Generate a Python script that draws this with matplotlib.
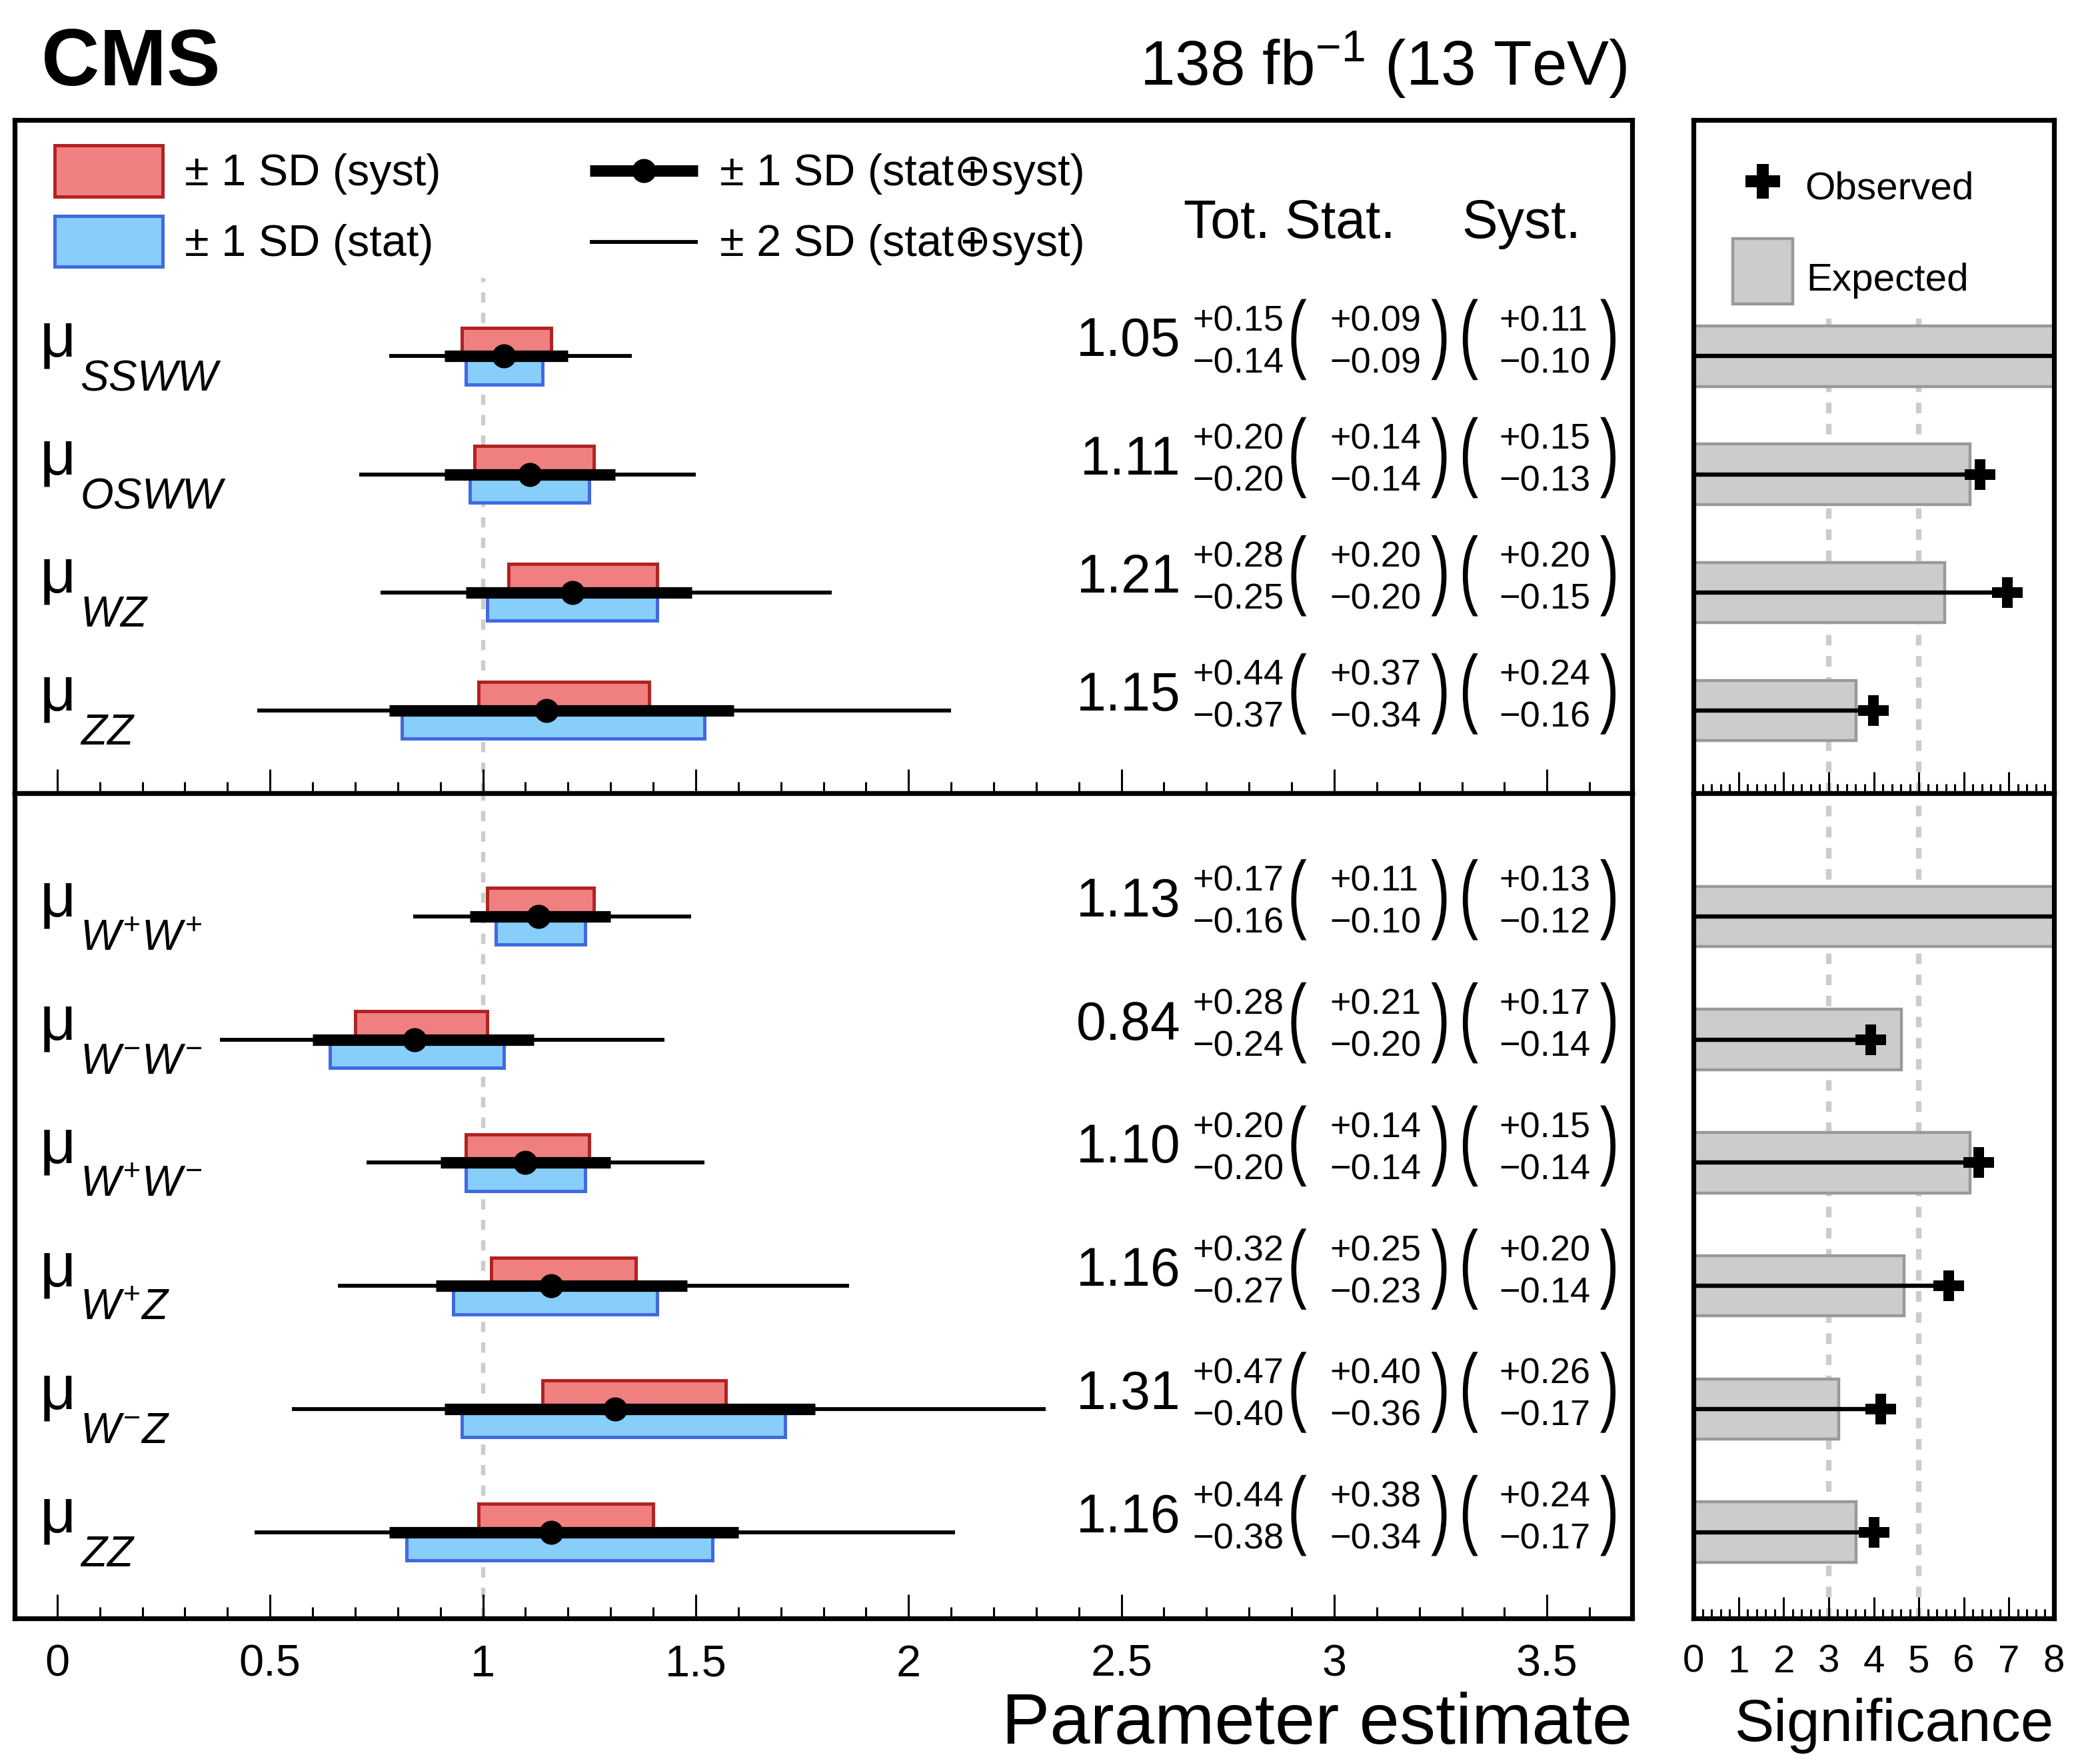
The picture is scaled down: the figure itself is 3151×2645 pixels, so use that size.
import matplotlib
matplotlib.use('Agg')
import matplotlib.pyplot as plt
from matplotlib.patches import Rectangle, PathPatch
from matplotlib.ticker import MultipleLocator
from matplotlib.textpath import TextPath
from matplotlib.font_manager import FontProperties
from matplotlib.transforms import Affine2D, ScaledTranslation
import numpy as np

plt.rcParams['font.family'] = ['Liberation Sans', 'DejaVu Sans']
plt.rcParams['mathtext.fontset'] = 'custom'
plt.rcParams['mathtext.rm'] = 'Liberation Sans'
plt.rcParams['mathtext.it'] = 'Liberation Sans:italic'
plt.rcParams['mathtext.bf'] = 'Liberation Sans:bold'

# ---------------- data ----------------
top_labels = ['SSWW', 'OSWW', 'WZ', 'ZZ']
top_mu = [1.05, 1.11, 1.21, 1.15]
top_tot_up = [0.15, 0.20, 0.28, 0.44]
top_tot_dn = [0.14, 0.20, 0.25, 0.37]
top_stat_up = [0.09, 0.14, 0.20, 0.37]
top_stat_dn = [0.09, 0.14, 0.20, 0.34]
top_syst_up = [0.11, 0.15, 0.20, 0.24]
top_syst_dn = [0.10, 0.13, 0.15, 0.16]
top_2sd_lo = [0.78, 0.71, 0.76, 0.47]
top_2sd_hi = [1.35, 1.50, 1.82, 2.10]
top_sig_exp = [10.0, 6.14, 5.58, 3.61]
top_sig_obs = [10.0, 6.36, 6.97, 3.99]

bot_labels = [r'W^{+}W^{+}', r'W^{-}W^{-}', r'W^{+}W^{-}', r'W^{+}Z', r'W^{-}Z', r'ZZ']
bot_mu = [1.13, 0.84, 1.10, 1.16, 1.31, 1.16]
bot_tot_up = [0.17, 0.28, 0.20, 0.32, 0.47, 0.44]
bot_tot_dn = [0.16, 0.24, 0.20, 0.27, 0.40, 0.38]
bot_stat_up = [0.11, 0.21, 0.14, 0.25, 0.40, 0.38]
bot_stat_dn = [0.10, 0.20, 0.14, 0.23, 0.36, 0.34]
bot_syst_up = [0.13, 0.17, 0.15, 0.20, 0.26, 0.24]
bot_syst_dn = [0.12, 0.14, 0.14, 0.14, 0.17, 0.17]
bot_2sd_lo = [0.836, 0.382, 0.726, 0.659, 0.552, 0.464]
bot_2sd_hi = [1.489, 1.426, 1.521, 1.861, 2.322, 2.110]
bot_sig_exp = [10.0, 4.61, 6.14, 4.68, 3.23, 3.61]
bot_sig_obs = [10.0, 3.94, 6.33, 5.66, 4.16, 4.01]

x_ticks_main = [0, 0.5, 1, 1.5, 2, 2.5, 3, 3.5]
x_ticklabels_main = ['0', '0.5', '1', '1.5', '2', '2.5', '3', '3.5']
x_ticks_sig = [0, 1, 2, 3, 4, 5, 6, 7, 8]

# ---------------- style ----------------
RED_FILL, RED_EDGE = '#F08080', '#B22222'
BLUE_FILL, BLUE_EDGE = '#87CEFA', '#4169E1'
GRAY_FILL, GRAY_EDGE = '#CCCCCC', '#999999'
DASH_COL = '#CCCCCC'

W, H = 3151, 2645
DPI = 200
fig = plt.figure(figsize=(W / DPI, H / DPI), dpi=DPI)


def fx(px):
    return px / W


def fy(py):
    return 1 - py / H


mainL, mainR = 22, 2449
sigL, sigR = 2541, 3082
topT, midY, botB = 180, 1190, 2428

ax_top = fig.add_axes([fx(mainL), fy(midY), fx(mainR) - fx(mainL), fy(topT) - fy(midY)])
ax_bot = fig.add_axes([fx(mainL), fy(botB), fx(mainR) - fx(mainL), fy(midY) - fy(botB)])
sx_top = fig.add_axes([fx(sigL), fy(midY), fx(sigR) - fx(sigL), fy(topT) - fy(midY)])
sx_bot = fig.add_axes([fx(sigL), fy(botB), fx(sigR) - fx(sigL), fy(midY) - fy(botB)])

XLIM = (-0.1, 3.7)
TOP_YLIM = (-0.7, 5.0)
BOT_YLIM = (-0.7, 6.0)

PAREN_PROP = FontProperties(family='Liberation Sans')


def paren(ax, ch, x, y, dy_pt=9.0, size=47.0, sx=0.66):
    """Draw a tall, thin parenthesis centred at data (x, y) shifted by dy_pt points."""
    tp = TextPath((0, 0), ch, size=size, prop=PAREN_PROP)
    ext = tp.get_extents()
    cx, cy = (ext.x0 + ext.x1) / 2, (ext.y0 + ext.y1) / 2
    tr = (Affine2D().translate(-cx, -cy).scale(sx / 72.0, 1 / 72.0).translate(0, dy_pt / 72.0)
          + fig.dpi_scale_trans + ScaledTranslation(x, y, ax.transData)
          - ScaledTranslation(0, 0, fig.dpi_scale_trans))
    ax.add_artist(PathPatch(tp, transform=tr, facecolor='black', edgecolor='none',
                            clip_on=False, zorder=5))


def style_axes(ax, xlim, ylim, main=True, labels=True):
    ax.set_xlim(*xlim)
    ax.set_ylim(*ylim)
    ax.set_yticks([])
    for s in ax.spines.values():
        s.set_linewidth(2.6)
    if main:
        ax.set_xticks(x_ticks_main)
        ax.set_xticklabels(x_ticklabels_main)
        ax.xaxis.set_minor_locator(MultipleLocator(0.1))
        ax.tick_params(axis='x', which='major', direction='in', length=13, width=1.1,
                       labelsize=24, pad=14, labelbottom=labels)
        ax.tick_params(axis='x', which='minor', direction='in', length=6, width=1.1)
    else:
        ax.set_xticks(x_ticks_sig)
        ax.xaxis.set_minor_locator(MultipleLocator(0.2))
        ax.tick_params(axis='x', which='major', direction='in', length=11.5, width=1.1,
                       labelsize=21, pad=14, labelbottom=labels)
        ax.tick_params(axis='x', which='minor', direction='in', length=5, width=1.1)


def draw_main(ax, labels, mu, tu, td, stu, std, syu, syd, lo2, hi2, box_h, dash_top):
    n = len(mu)
    y = np.arange(n)[::-1].astype(float)
    mu = np.array(mu); tu = np.array(tu); td = np.array(td)
    stu = np.array(stu); std = np.array(std); syu = np.array(syu); syd = np.array(syd)
    ax.vlines(1.0, ax.get_ylim()[0], dash_top, colors=DASH_COL, lw=2.3,
              linestyles=(0, (2.4, 2.4)), zorder=0)
    ax.barh(y + box_h / 2, syu + syd, left=mu - syd, height=box_h,
            color=RED_FILL, edgecolor=RED_EDGE, lw=1.8, zorder=2)
    ax.barh(y - box_h / 2, stu + std, left=mu - std, height=box_h,
            color=BLUE_FILL, edgecolor=BLUE_EDGE, lw=1.8, zorder=2)
    ax.hlines(y, lo2, hi2, colors='black', lw=2.1, zorder=3)
    ax.hlines(y, mu - td, mu + tu, colors='black', lw=6.2, zorder=4)
    ax.plot(mu, y, 'o', color='black', ms=13, mew=0, zorder=5)
    for i in range(n):
        yi = y[i]
        ax.annotate('μ', xy=(-0.0415, yi), xytext=(0, 0), textcoords='offset points',
                    fontsize=34, ha='left', va='baseline')
        ax.annotate('$' + labels[i] + '$', xy=(0.054, yi), xytext=(0, -18.4),
                    textcoords='offset points', fontsize=23, ha='left', va='baseline')
        ax.annotate(f'{mu[i]:.2f}', xy=(2.640, yi), xytext=(0, 0), textcoords='offset points',
                    fontsize=29, ha='right', va='baseline')
        for xl, u, d in ((2.667, tu[i], td[i]), (2.990, stu[i], std[i]), (3.388, syu[i], syd[i])):
            ax.annotate(f'+{u:.2f}', xy=(xl, yi), xytext=(0, 13.7), textcoords='offset points',
                        fontsize=19.5, ha='left', va='baseline')
            ax.annotate(f'\u2212{d:.2f}', xy=(xl, yi), xytext=(0, -9), textcoords='offset points',
                        fontsize=19.5, ha='left', va='baseline')
        for xp, ch in ((2.917, '('), (3.246, ')'), (3.320, '('), (3.643, ')')):
            paren(ax, ch, xp, yi)


def draw_sig(ax, exp, obs, bar_h, dash_top):
    n = len(exp)
    y = np.arange(n)[::-1].astype(float)
    ax.vlines([3, 5], ax.get_ylim()[0], dash_top, colors=DASH_COL, lw=3.0,
              linestyles=(0, (1.9, 1.9)), zorder=0)
    ax.barh(y, exp, left=0, height=bar_h, color=GRAY_FILL, edgecolor=GRAY_EDGE, lw=1.6, zorder=2)
    ax.hlines(y, 0, obs, colors='black', lw=2.3, zorder=3)
    ax.plot(obs, y, 'P', color='black', ms=16.5, mew=0, zorder=4)


for ax, ylim, lab in ((ax_top, TOP_YLIM, False), (ax_bot, BOT_YLIM, True)):
    style_axes(ax, XLIM, ylim, main=True, labels=lab)
for ax, ylim, lab in ((sx_top, TOP_YLIM, False), (sx_bot, BOT_YLIM, True)):
    style_axes(ax, (0, 8), ylim, main=False, labels=lab)

draw_main(ax_top, top_labels, top_mu, top_tot_up, top_tot_dn, top_stat_up, top_stat_dn,
          top_syst_up, top_syst_dn, top_2sd_lo, top_2sd_hi, 0.24, 3.66)
draw_main(ax_bot, bot_labels, bot_mu, bot_tot_up, bot_tot_dn, bot_stat_up, bot_stat_dn,
          bot_syst_up, bot_syst_dn, bot_2sd_lo, bot_2sd_hi, 0.23, BOT_YLIM[1])
draw_sig(sx_top, top_sig_exp, top_sig_obs, 0.51, 3.32)
draw_sig(sx_bot, bot_sig_exp, bot_sig_obs, 0.49, BOT_YLIM[1])

# ---------------- legend (main) ----------------
ax = ax_top
ax.add_patch(Rectangle((-0.0055, 4.353), 0.2535, 0.433, facecolor=RED_FILL,
                       edgecolor=RED_EDGE, lw=1.8, clip_on=False, zorder=3))
ax.add_patch(Rectangle((-0.0055, 3.756), 0.2535, 0.434, facecolor=BLUE_FILL,
                       edgecolor=BLUE_EDGE, lw=1.8, clip_on=False, zorder=3))
ax.text(0.300, 4.541, '± 1 SD (syst)', fontsize=24, ha='left', va='center')
ax.text(0.300, 3.945, '± 1 SD (stat)', fontsize=24, ha='left', va='center')
ax.plot([1.251, 1.505], [4.572, 4.572], color='black', lw=6.2, solid_capstyle='butt')
ax.plot([1.378], [4.572], 'o', color='black', ms=13, mew=0)
ax.plot([1.251, 1.505], [3.970, 3.970], color='black', lw=2.1, solid_capstyle='butt')
ax.text(1.557, 4.541, '± 1 SD (stat⊕syst)', fontsize=24, ha='left', va='center')
ax.text(1.557, 3.945, '± 2 SD (stat⊕syst)', fontsize=24, ha='left', va='center')
ax.text(2.646, 4.0, 'Tot. Stat.', fontsize=29, ha='left', va='baseline')
ax.text(3.299, 4.0, 'Syst.', fontsize=29, ha='left', va='baseline')

# ---------------- legend (significance) ----------------
sx_top.plot([1.54], [4.482], 'P', color='black', ms=19, mew=0)
sx_top.text(2.47, 4.417, 'Observed', fontsize=21, ha='left', va='center')
sx_top.add_patch(Rectangle((0.87, 3.441), 1.33, 0.552, facecolor=GRAY_FILL,
                           edgecolor=GRAY_EDGE, lw=1.6, zorder=3))
sx_top.text(2.50, 3.641, 'Expected', fontsize=21, ha='left', va='center')

# ---------------- figure texts ----------------
fig.text(fx(62), fy(128), 'CMS', fontsize=43.5, fontweight='bold', ha='left', va='baseline')
fig.text(fx(2442), fy(127), r'138 fb$^{-1}$ (13 TeV)', fontsize=34, ha='right', va='baseline')
fig.text(fx(mainR), fy(2616), 'Parameter estimate', fontsize=39, ha='right', va='baseline')
fig.text(fx(sigR), fy(2612), 'Significance', fontsize=32, ha='right', va='baseline')

fig.savefig('out.png', dpi=DPI)
